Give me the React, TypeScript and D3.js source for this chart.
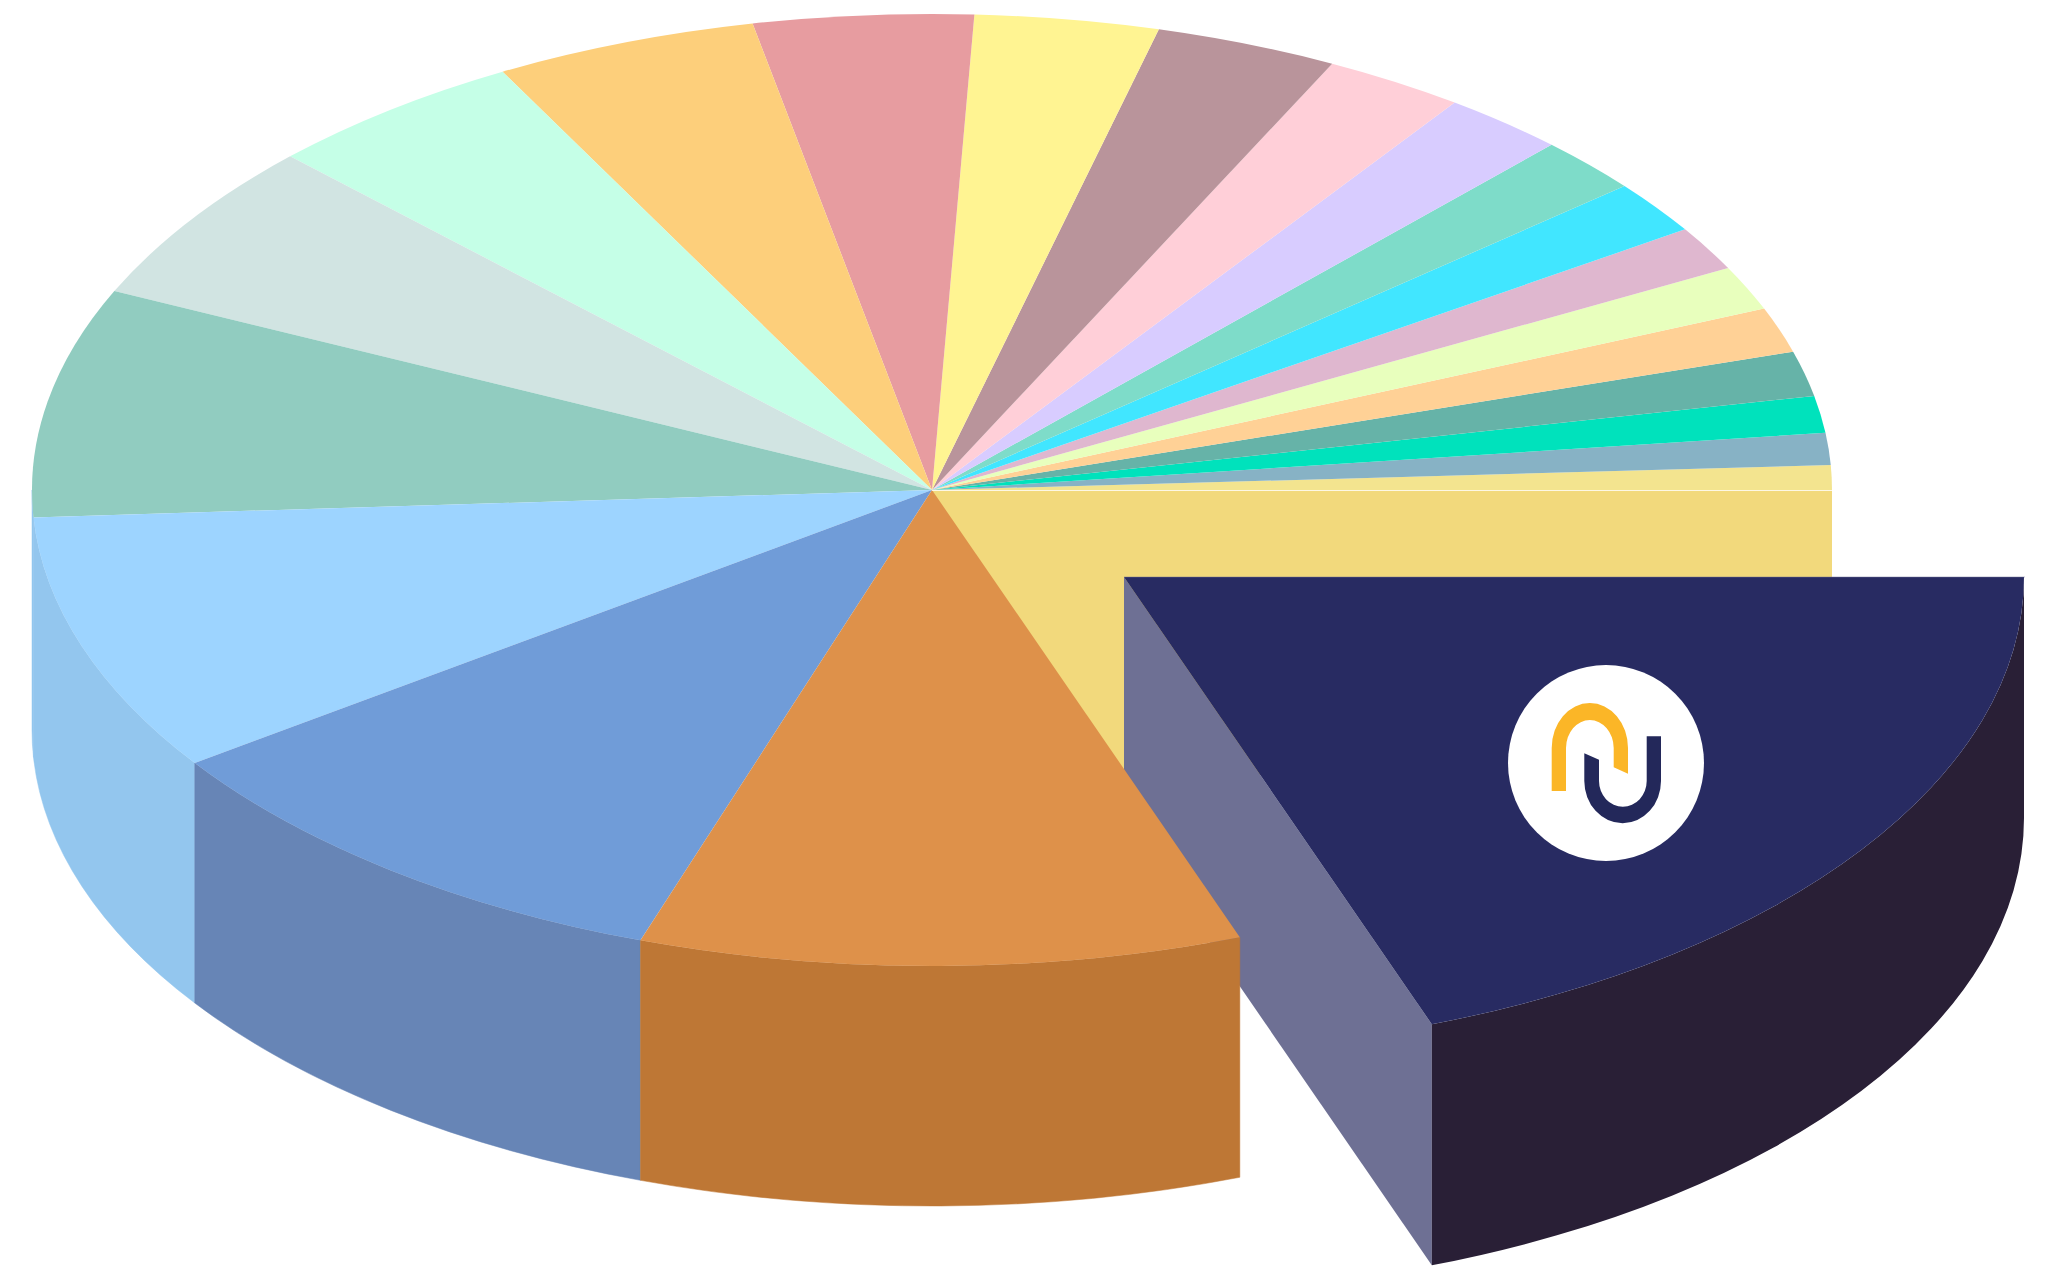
import React, { useEffect, useRef } from "react";
import * as d3 from "d3";

// sweep of each slice in degrees, counter-clockwise from 3 o'clock
const values = [
  3.0, 3.9, 4.5, 5.5, 5.5, 5.4, 5.4, 6.5, 6.8, 8.0, 9.1, 11.8, 11.9, 14.2, 17.0,
  17.0, 19.8, 28.0, 31.7, 36.1, 38.9, 70.0,
];

const topColors = [
  "#F3E48F", "#87B2C5", "#00E2BC", "#66B3A8", "#FFD196", "#E8FFBD", "#DFB7CF", "#41E6FF",
  "#7EDCC9", "#D8CCFF", "#FFCFD8", "#B9949B", "#FFF492", "#E79CA0", "#FDCF7B", "#C5FFE7",
  "#D1E4E2", "#91CCC0", "#9DD4FF", "#709CD8", "#DE914A", "#282B62",
];

// only the slices that reach the front of the pie show a side
const sideColors: Record<number, string> = {
  17: "#93C6EE",
  18: "#93C6EE",
  19: "#6785B6",
  20: "#BE7735",
};

const explodedIndex = 21;
const wallColor = "#F2D97C";
const explodedWallColor = "#6E7094";
const explodedSideColor = "#291F36";

export default function App() {
  const svgRef = useRef<SVGSVGElement | null>(null);

  useEffect(() => {
    const width = 2049;
    const height = 1268;
    const cx = 932;
    const cy = 490;
    const rx = 900;
    const ry = 476;
    const depth = 240;
    const explode = { x: 192, y: 87, depth: 241 };

    const svg = d3.select(svgRef.current);
    svg.selectAll("*").remove();
    svg.attr("width", width).attr("height", height);

    const pie = d3
      .pie<number>()
      .sort(null)
      .value((d) => d)
      .startAngle(Math.PI / 2)
      .endAngle(Math.PI / 2 - 2 * Math.PI);
    const arcs = pie(values);

    const arc = d3.arc<d3.PieArcDatum<number>>().innerRadius(0).outerRadius(rx);

    const rim = (a: number, ox = 0, oy = 0): [number, number] => [
      cx + ox + rx * Math.sin(a),
      cy + oy - ry * Math.cos(a),
    ];

    // outer side between two pie angles, a0 > a1
    const sidePath = (a0: number, a1: number, h: number, ox = 0, oy = 0) => {
      const [x0, y0] = rim(a0, ox, oy);
      const [x1, y1] = rim(a1, ox, oy);
      return `M${x0},${y0}A${rx},${ry} 0 0 0 ${x1},${y1}L${x1},${y1 + h}A${rx},${ry} 0 0 1 ${x0},${y0 + h}Z`;
    };

    const frontStart = -Math.PI / 2;
    const frontEnd = (-3 * Math.PI) / 2;

    // cut face behind the exploded slice, runs on under the orange slice
    svg
      .append("rect")
      .attr("x", cx)
      .attr("y", cy)
      .attr("width", rx)
      .attr("height", 285)
      .attr("fill", wallColor);

    const exploded = arcs[explodedIndex];

    // inner wall of the exploded slice, the orange slice sits over it
    const [ex, ey] = rim(exploded.startAngle, explode.x, explode.y);
    const ax = cx + explode.x;
    const ay = cy + explode.y;
    svg
      .append("path")
      .attr("d", `M${ax},${ay}L${ex},${ey}L${ex},${ey + explode.depth}L${ax},${ay + explode.depth}Z`)
      .attr("fill", explodedWallColor);

    arcs.forEach((d, i) => {
      const color = sideColors[i];
      if (!color) return;
      const s = Math.min(d.startAngle, frontStart);
      const e = Math.max(d.endAngle, frontEnd);
      if (s <= e) return;
      svg
        .append("path")
        .attr("d", sidePath(s, e, depth))
        .attr("fill", color)
        .attr("stroke", color)
        .attr("stroke-width", 0.5);
    });

    const top = svg
      .append("g")
      .attr("transform", `translate(${cx},${cy}) scale(1,${ry / rx})`);

    arcs.forEach((d, i) => {
      if (i === explodedIndex) return;
      top.append("path").attr("d", arc(d)).attr("fill", topColors[i]);
    });

    // white hairline where the top meets the cut face
    svg
      .append("line")
      .attr("x1", cx)
      .attr("x2", cx + rx)
      .attr("y1", cy + 0.5)
      .attr("y2", cy + 0.5)
      .attr("stroke", "#fff")
      .attr("stroke-width", 0.8);

    svg
      .append("path")
      .attr("d", sidePath(exploded.startAngle, exploded.endAngle, explode.depth, explode.x, explode.y))
      .attr("fill", explodedSideColor);

    svg
      .append("g")
      .attr("transform", `translate(${ax},${ay}) scale(1,${ry / rx})`)
      .append("path")
      .attr("d", arc(exploded))
      .attr("fill", topColors[explodedIndex]);

    // thin light edge along the flat top of the exploded slice
    svg
      .append("line")
      .attr("x1", ax)
      .attr("x2", ax + rx + 1)
      .attr("y1", ay)
      .attr("y2", ay)
      .attr("stroke", explodedWallColor)
      .attr("stroke-opacity", 0.6)
      .attr("stroke-width", 0.8);

    // logo on the exploded slice
    const logo = svg.append("g");
    logo.append("circle").attr("cx", 1606).attr("cy", 763).attr("r", 98).attr("fill", "#fff");
    logo
      .append("path")
      .attr(
        "d",
        "M1551.7,791L1551.7,748A38.15,45 0 0 1 1628,748L1628,773.7L1613.7,767.3L1613.7,748A23.85,28 0 0 0 1566,748L1566,791Z"
      )
      .attr("fill", "#FBB627");
    logo
      .append("path")
      .attr(
        "d",
        "M1584.3,753.3L1599,759.7L1599,781A23.85,25.7 0 0 0 1646.7,781L1646.7,736.3L1661,736.3L1661,781A38.35,42.3 0 0 1 1584.3,781Z"
      )
      .attr("fill", "#23285A");
  }, []);

  return (
    <svg
      ref={svgRef}
      style={{ position: "absolute", left: 0, top: 0, display: "block" }}
    ></svg>
  );
}
